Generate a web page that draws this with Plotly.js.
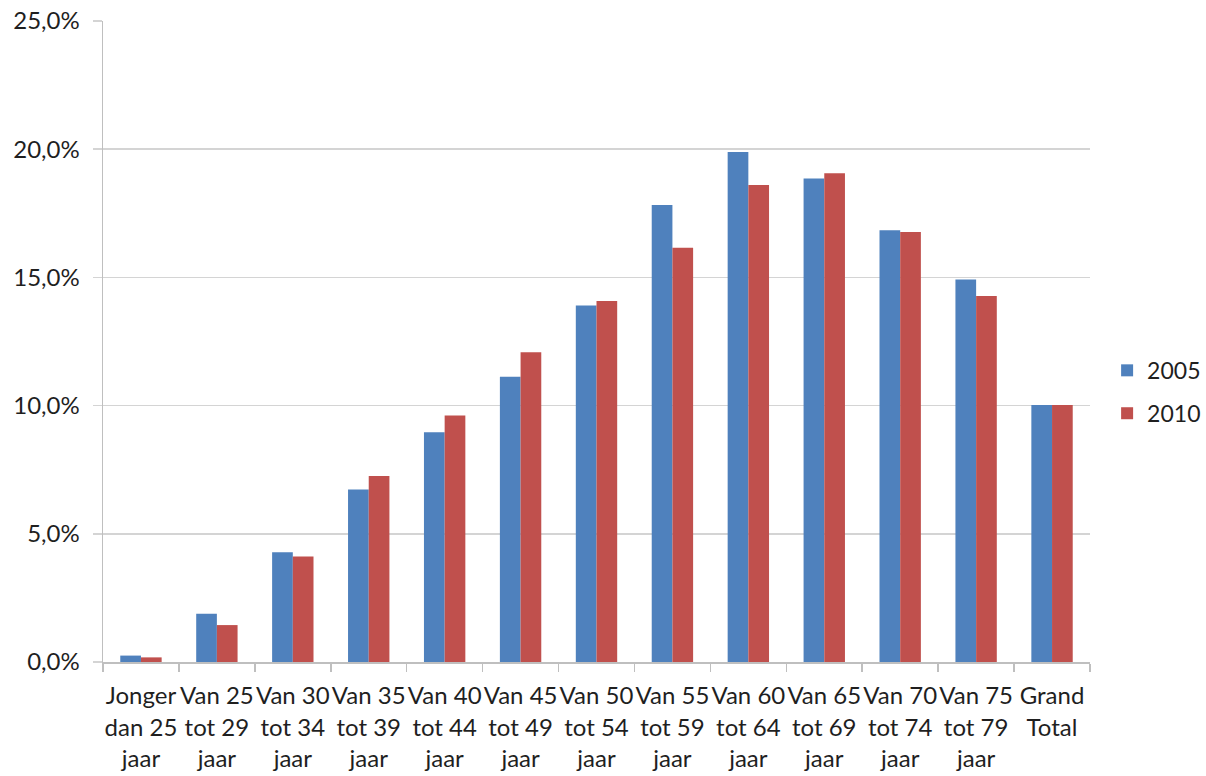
<!DOCTYPE html>
<html>
<head>
<meta charset="utf-8">
<script src="https://cdn.plot.ly/plotly-3.0.1.min.js"></script>
<style>
  html, body { margin: 0; padding: 0; background: #ffffff; }
  #chart { width: 1206px; height: 776px; }
</style>
</head>
<body>
<div id="chart"></div>
<script>
// Age groups (three-line category labels)
const categories = [
  "Jonger<br>dan 25<br>jaar",
  "Van 25<br>tot 29<br>jaar",
  "Van 30<br>tot 34<br>jaar",
  "Van 35<br>tot 39<br>jaar",
  "Van 40<br>tot 44<br>jaar",
  "Van 45<br>tot 49<br>jaar",
  "Van 50<br>tot 54<br>jaar",
  "Van 55<br>tot 59<br>jaar",
  "Van 60<br>tot 64<br>jaar",
  "Van 65<br>tot 69<br>jaar",
  "Van 70<br>tot 74<br>jaar",
  "Van 75<br>tot 79<br>jaar",
  "Grand<br>Total"
];

// Share per age group, in percent
const values2005 = [0.25, 1.88, 4.28, 6.73, 8.96, 11.13, 13.9, 17.82, 19.89, 18.86, 16.84, 14.92, 10.02];
const values2010 = [0.18, 1.44, 4.11, 7.25, 9.61, 12.08, 14.08, 16.16, 18.6, 19.06, 16.77, 14.27, 10.02];

// Y axis ticks and their labels
const yTicks = [0, 5, 10, 15, 20, 25];
const yTickLabels = ["0,0%", "5,0%", "10,0%", "15,0%", "20,0%", "25,0%"];

const fontFamily = "Lato, 'Open Sans', sans-serif";
const textColor = "#1f1f1f";

const traces = [
  {
    type: "bar",
    name: "2005",
    x: categories,
    y: values2005,
    marker: { color: "#4F81BD" },
    legendgroup: "a",
    hoverinfo: "skip"
  },
  {
    type: "bar",
    name: "2010",
    x: categories,
    y: values2010,
    marker: { color: "#C0504D" },
    legendgroup: "b",
    hoverinfo: "skip"
  }
];

const layout = {
  width: 1206,
  height: 776,
  margin: { l: 103, r: 116, t: 21, b: 114, autoexpand: false },
  paper_bgcolor: "#ffffff",
  plot_bgcolor: "#ffffff",
  barmode: "group",
  bargap: 0.455,
  bargroupgap: 0,
  font: { family: fontFamily, size: 24, color: textColor },
  showlegend: true,
  legend: {
    xref: "container",
    yref: "container",
    x: 0.918,
    xanchor: "left",
    y: 0.495,
    yanchor: "middle",
    traceorder: "grouped",
    tracegroupgap: 10,
    font: { family: fontFamily, size: 23, color: textColor },
    bgcolor: "rgba(0,0,0,0)"
  },
  xaxis: {
    type: "category",
    showgrid: false,
    showline: true,
    linecolor: "#BFBFBF",
    linewidth: 1.5,
    ticks: "outside",
    ticklen: 8,
    tickcolor: "#BFBFBF",
    tickwidth: 1.5,
    tickson: "boundaries",
    tickangle: 0,
    ticklabelstandoff: 12,
    tickfont: { family: fontFamily, size: 24, color: textColor },
    fixedrange: true
  },
  yaxis: {
    range: [0, 25],
    tickmode: "array",
    tickvals: yTicks,
    ticktext: yTickLabels,
    showgrid: true,
    gridcolor: "#D4D4D4",
    gridwidth: 1.5,
    zeroline: false,
    showline: true,
    linecolor: "#BFBFBF",
    linewidth: 1.5,
    ticks: "outside",
    ticklen: 9,
    tickcolor: "#D4D4D4",
    tickwidth: 1.5,
    ticklabelstandoff: 8,
    tickfont: { family: fontFamily, size: 24, color: textColor },
    fixedrange: true
  }
};

Plotly.newPlot("chart", traces, layout, { displayModeBar: false, staticPlot: true });
</script>
</body>
</html>
